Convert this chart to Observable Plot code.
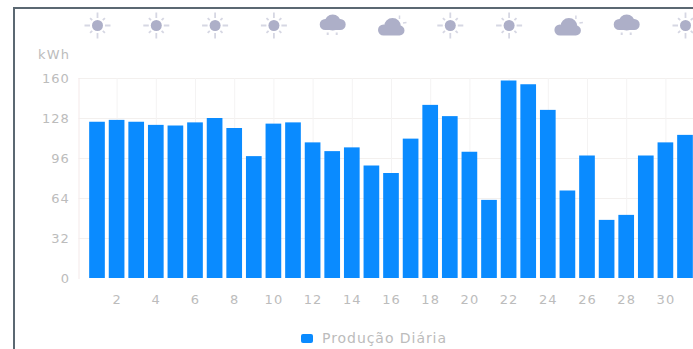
<!DOCTYPE html>
<html lang="pt">
<head>
<meta charset="utf-8">
<title>Produção Diária</title>
<script src="https://cdn.jsdelivr.net/npm/d3@7"></script>
<script src="https://cdn.jsdelivr.net/npm/@observablehq/plot@0.6"></script>
<style>
  html, body { margin: 0; padding: 0; background: #fff; overflow: hidden; width: 693px; height: 349px; }
  #panel { position: absolute; left: 13px; top: 7px; width: 1000px; height: 1000px; border: 2px solid #5b6872; }
  #chart { position: absolute; left: 0; top: 0; }
  #chart text { letter-spacing: 1.1px; }
  #legend { position: absolute; left: 301px; top: 329px; display: flex; align-items: center;
            font: 14px "DejaVu Sans", sans-serif; color: #bcbcbc; letter-spacing: 0.95px; height: 18px; }
  #legend i { width: 12px; height: 9px; background: #0a8bff; border-radius: 2px; margin-right: 9px; }
</style>
</head>
<body>
<div id="panel"></div>
<div id="chart"></div>
<div id="legend"><i></i><span>Produção Diária</span></div>
<script>
const days = d3.range(1, 32);
const production = [125, 126.5, 125, 122.5, 122, 124.5, 128, 120, 97.5, 123.5, 124.5, 108.5,
  101.5, 104.5, 90, 84, 111.5, 138.5, 129.5, 101, 62.5, 158, 155, 134.5, 70, 98, 46.5, 50.5,
  98, 108.5, 114.5];
const yTicks = [0, 32, 64, 96, 128, 160];
const xTicks = days.filter((d) => d % 2 === 0);
const forecastDays = [1, 4, 7, 10, 13, 16, 19, 22, 25, 28, 31];
const forecastKinds = ["sun", "sun", "sun", "sun", "rain", "partly", "sun", "sun", "partly", "rain", "sun"];

const rows = days.map((day, i) => ({day, kWh: production[i]}));
const forecast = forecastDays.map((day, i) => ({day, kind: forecastKinds[i]}));

const gray = "#bcbcbc";
const iconDark = "#adafc8";
const iconLight = "#d6d7e3";

// Weather glyphs, each drawn around the origin of its dot.
function puff(c, x, y, r) { c.moveTo(x + r, y); c.arc(x, y, r, 0, 2 * Math.PI); }
function slab(c, x0, y0, x1, y1) {
  c.moveTo(x0, y0); c.lineTo(x1, y0); c.lineTo(x1, y1); c.lineTo(x0, y1); c.closePath();
}
const sunCore = {draw(c) { puff(c, 0, 0, 5.5); }};
const sunRays = {draw(c) {
  for (let a = 0; a < 8; ++a) {
    const t = a * Math.PI / 4, u = Math.cos(t), v = Math.sin(t);
    const reach = a % 2 ? 10.5 : 13;
    c.moveTo(7.5 * u, 7.5 * v);
    c.lineTo(reach * u, reach * v);
  }
}};
const rainCloud = {draw(c) {
  puff(c, -7.5, -1, 5.5);
  puff(c, 0, -3, 8);
  puff(c, 7.5, -1, 5.5);
  slab(c, -7.5, -3, 7.5, 4.5);
}};
const rainDrops = {draw(c) {
  for (const x of [-5, 4]) { c.moveTo(x, 7); c.lineTo(x, 9.5); }
}};
const partlyCloud = {draw(c) {
  puff(c, -8, 4.5, 5.5);
  puff(c, 1, 1, 8.5);
  puff(c, 8, 5, 5);
  slab(c, -8, 3, 8, 10);
}};
const partlySun = {draw(c) {
  c.moveTo(8, -10); c.lineTo(8, -6.5);
  c.moveTo(15, -3); c.lineTo(11.5, -2.5);
}};

const iconMark = (kind, symbol, options) => Plot.dot(
  forecast.filter((d) => d.kind === kind),
  {x: "day", frameAnchor: "top", dy: -53, symbol, r: 5, ...options}
);

const plot = Plot.plot({
  width: 693,
  height: 349,
  marginLeft: 78.5,
  marginRight: 0,
  marginTop: 78,
  marginBottom: 71,
  style: {background: "transparent", fontFamily: "'DejaVu Sans', sans-serif"},
  x: {type: "band", domain: days, range: [87.2, 694.8], paddingInner: 0.2, paddingOuter: 0.1, round: false},
  y: {domain: [0, 160]},
  marks: [
    Plot.ruleY(yTicks.slice(1), {stroke: "#f3f0ee", strokeWidth: 1}),
    Plot.gridX({ticks: xTicks, stroke: "#f4f3f3", strokeOpacity: 1}),
    Plot.frame({anchor: "left", stroke: "#f4e9e9"}),
    Plot.barY(rows, {x: "day", y: "kWh", fill: "#0a8bff"}),
    Plot.axisY({ticks: yTicks, label: null, tickSize: 0, tickPadding: 9, fontSize: 13, color: gray}),
    Plot.axisX({ticks: xTicks, label: null, tickSize: 0, tickPadding: 16, fontSize: 13, color: gray}),
    Plot.text(["kWh"], {frameAnchor: "top-left", dx: -9, dy: -29, textAnchor: "end", fontSize: 13, fill: gray}),
    iconMark("sun", sunRays, {fill: "none", stroke: iconLight, strokeWidth: 1.8}),
    iconMark("sun", sunCore, {fill: iconDark, stroke: "none"}),
    iconMark("rain", rainCloud, {fill: iconDark, stroke: "none"}),
    iconMark("rain", rainDrops, {fill: "none", stroke: iconLight, strokeWidth: 2}),
    iconMark("partly", partlySun, {fill: "none", stroke: iconLight, strokeWidth: 1.5}),
    iconMark("partly", partlyCloud, {fill: iconDark, stroke: "none"})
  ]
});
document.getElementById("chart").append(plot);
</script>
</body>
</html>
